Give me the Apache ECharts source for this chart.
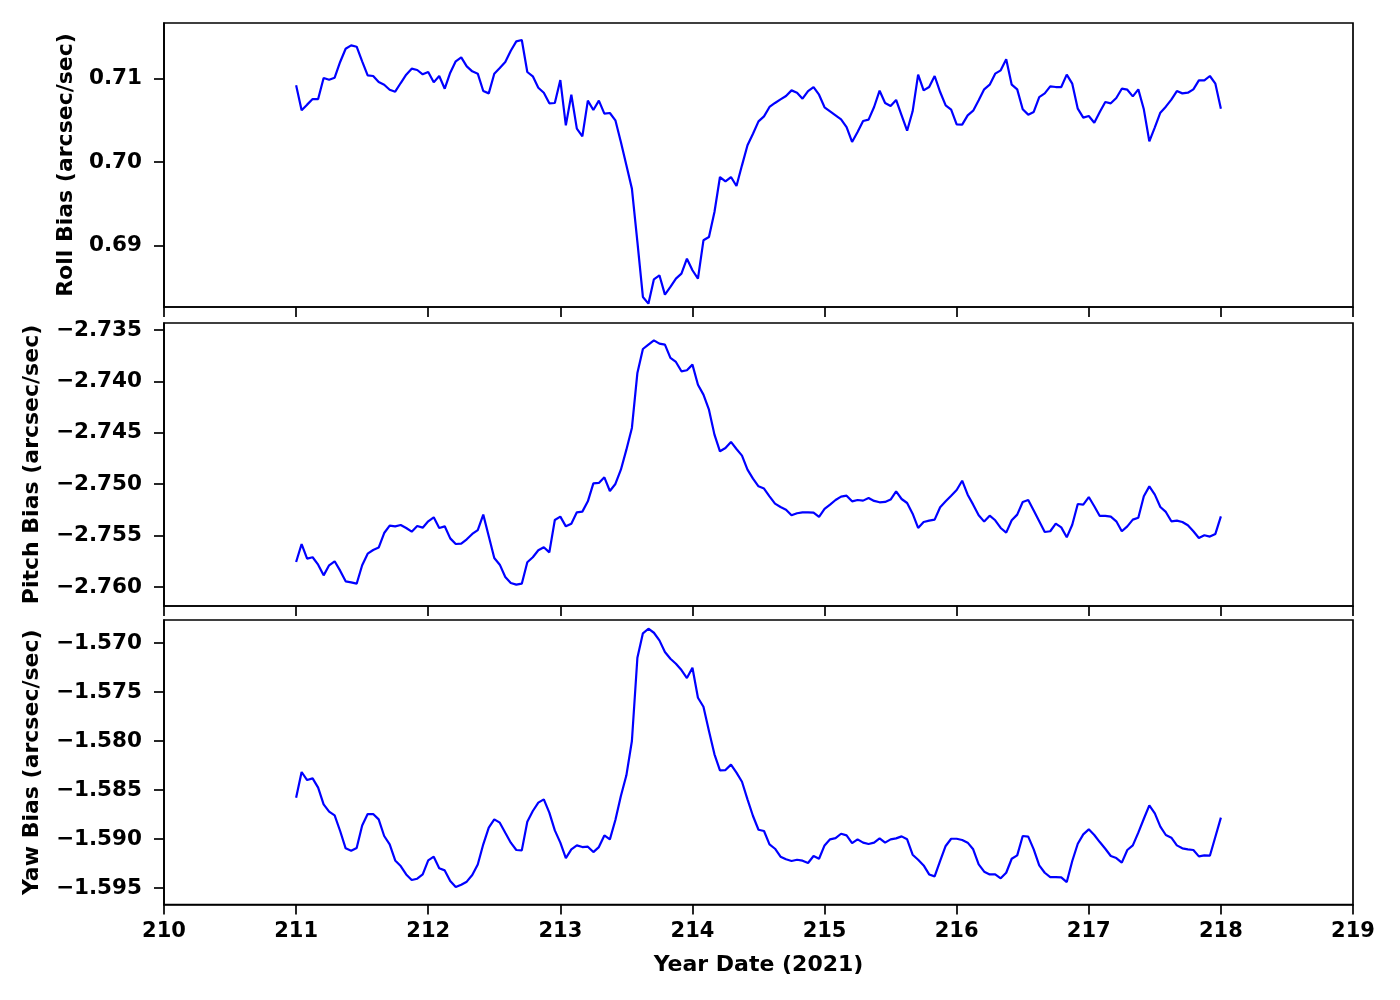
<!DOCTYPE html>
<html>
<head>
<meta charset="utf-8">
<script src="https://cdn.jsdelivr.net/npm/echarts@6/dist/echarts.min.js"></script>
<style>
html,body{margin:0;padding:0;background:#fff;}
#chart{width:1400px;height:1000px;}
</style>
</head>
<body>
<div id="chart"></div>
<script>
// Year date (2021), hourly samples
const yearDate = [
211.0000,211.0417,211.0833,211.1250,211.1667,211.2083,211.2500,211.2917,211.3333,211.3750,211.4167,211.4583,211.5000,211.5417,211.5833,211.6250,211.6667,211.7083,211.7500,211.7917,211.8333,211.8750,211.9167,211.9583,
212.0000,212.0417,212.0833,212.1250,212.1667,212.2083,212.2500,212.2917,212.3333,212.3750,212.4167,212.4583,212.5000,212.5417,212.5833,212.6250,212.6667,212.7083,212.7500,212.7917,212.8333,212.8750,212.9167,212.9583,
213.0000,213.0417,213.0833,213.1250,213.1667,213.2083,213.2500,213.2917,213.3333,213.3750,213.4167,213.4583,213.5000,213.5417,213.5833,213.6250,213.6667,213.7083,213.7500,213.7917,213.8333,213.8750,213.9167,213.9583,
214.0000,214.0417,214.0833,214.1250,214.1667,214.2083,214.2500,214.2917,214.3333,214.3750,214.4167,214.4583,214.5000,214.5417,214.5833,214.6250,214.6667,214.7083,214.7500,214.7917,214.8333,214.8750,214.9167,214.9583,
215.0000,215.0417,215.0833,215.1250,215.1667,215.2083,215.2500,215.2917,215.3333,215.3750,215.4167,215.4583,215.5000,215.5417,215.5833,215.6250,215.6667,215.7083,215.7500,215.7917,215.8333,215.8750,215.9167,215.9583,
216.0000,216.0417,216.0833,216.1250,216.1667,216.2083,216.2500,216.2917,216.3333,216.3750,216.4167,216.4583,216.5000,216.5417,216.5833,216.6250,216.6667,216.7083,216.7500,216.7917,216.8333,216.8750,216.9167,216.9583,
217.0000,217.0417,217.0833,217.1250,217.1667,217.2083,217.2500,217.2917,217.3333,217.3750,217.4167,217.4583,217.5000,217.5417,217.5833,217.6250,217.6667,217.7083,217.7500,217.7917,217.8333,217.8750,217.9167,217.9583,
218.0000
];

const rollBias = [
0.70918,0.70619,0.70687,0.70754,0.70754,0.71006,0.70986,0.71010,0.71198,0.71357,0.71397,0.71381,0.71206,0.71038,0.71030,0.70958,0.70926,0.70866,0.70842,0.70946,0.71046,0.71118,0.71102,0.71050,
0.71078,0.70954,0.71030,0.70878,0.71070,0.71206,0.71253,0.71146,0.71086,0.71058,0.70850,0.70822,0.71058,0.71126,0.71198,0.71333,0.71445,0.71461,0.71078,0.71026,0.70890,0.70830,0.70703,0.70707,
0.70982,0.70439,0.70806,0.70399,0.70307,0.70735,0.70623,0.70735,0.70579,0.70587,0.70499,0.70240,0.69960,0.69681,0.69042,0.68383,0.68303,0.68595,0.68643,0.68411,0.68503,0.68603,0.68663,0.68842,
0.68703,0.68603,0.69062,0.69102,0.69401,0.69820,0.69768,0.69820,0.69713,0.69960,0.70200,0.70339,0.70487,0.70547,0.70659,0.70707,0.70750,0.70790,0.70858,0.70830,0.70758,0.70850,0.70898,0.70806,
0.70655,0.70607,0.70559,0.70511,0.70419,0.70240,0.70359,0.70491,0.70507,0.70659,0.70854,0.70707,0.70671,0.70743,0.70559,0.70375,0.70607,0.71046,0.70858,0.70898,0.71030,0.70838,0.70679,0.70627,
0.70451,0.70447,0.70559,0.70615,0.70739,0.70870,0.70926,0.71058,0.71098,0.71230,0.70926,0.70870,0.70631,0.70567,0.70599,0.70778,0.70822,0.70906,0.70898,0.70898,0.71046,0.70938,0.70639,0.70531,
0.70551,0.70471,0.70599,0.70719,0.70703,0.70766,0.70878,0.70866,0.70786,0.70870,0.70631,0.70248,0.70415,0.70591,0.70663,0.70747,0.70850,0.70822,0.70830,0.70870,0.70978,0.70978,0.71030,0.70938,
0.70639
];

const pitchBias = [
-2.75757,-2.75582,-2.75724,-2.75711,-2.75783,-2.75887,-2.75789,-2.75750,-2.75841,-2.75945,-2.75955,-2.75968,-2.75789,-2.75676,-2.75640,-2.75617,-2.75475,-2.75403,-2.75410,-2.75397,-2.75426,-2.75462,-2.75407,-2.75423,
-2.75361,-2.75322,-2.75426,-2.75410,-2.75527,-2.75582,-2.75578,-2.75536,-2.75484,-2.75446,-2.75296,-2.75507,-2.75718,-2.75783,-2.75903,-2.75961,-2.75977,-2.75968,-2.75760,-2.75711,-2.75643,-2.75614,-2.75663,-2.75348,
-2.75316,-2.75410,-2.75384,-2.75274,-2.75267,-2.75167,-2.74992,-2.74988,-2.74933,-2.75066,-2.74998,-2.74859,-2.74664,-2.74453,-2.73918,-2.73685,-2.73643,-2.73601,-2.73633,-2.73643,-2.73772,-2.73811,-2.73902,-2.73892,
-2.73837,-2.74032,-2.74129,-2.74275,-2.74518,-2.74680,-2.74648,-2.74589,-2.74658,-2.74722,-2.74859,-2.74946,-2.75021,-2.75043,-2.75118,-2.75189,-2.75222,-2.75248,-2.75303,-2.75283,-2.75274,-2.75274,-2.75277,-2.75319,
-2.75241,-2.75199,-2.75154,-2.75121,-2.75112,-2.75167,-2.75154,-2.75160,-2.75134,-2.75163,-2.75176,-2.75173,-2.75150,-2.75069,-2.75144,-2.75183,-2.75287,-2.75426,-2.75368,-2.75355,-2.75345,-2.75225,-2.75167,-2.75112,
-2.75056,-2.74966,-2.75102,-2.75199,-2.75303,-2.75364,-2.75306,-2.75351,-2.75426,-2.75471,-2.75351,-2.75296,-2.75173,-2.75154,-2.75257,-2.75361,-2.75465,-2.75458,-2.75384,-2.75420,-2.75517,-2.75394,-2.75193,-2.75199,
-2.75125,-2.75215,-2.75309,-2.75309,-2.75316,-2.75361,-2.75458,-2.75410,-2.75345,-2.75326,-2.75118,-2.75021,-2.75102,-2.75222,-2.75270,-2.75361,-2.75355,-2.75368,-2.75400,-2.75458,-2.75523,-2.75497,-2.75510,-2.75484,
-2.75313
];

const yawBias = [
-1.58578,-1.58316,-1.58398,-1.58381,-1.58476,-1.58646,-1.58721,-1.58759,-1.58918,-1.59095,-1.59119,-1.59092,-1.58861,-1.58745,-1.58745,-1.58799,-1.58969,-1.59054,-1.59218,-1.59276,-1.59361,-1.59418,-1.59405,-1.59361,
-1.59218,-1.59180,-1.59299,-1.59320,-1.59429,-1.59490,-1.59466,-1.59435,-1.59367,-1.59259,-1.59054,-1.58884,-1.58799,-1.58833,-1.58935,-1.59037,-1.59112,-1.59116,-1.58823,-1.58714,-1.58629,-1.58595,-1.58731,-1.58912,
-1.59037,-1.59194,-1.59105,-1.59065,-1.59082,-1.59078,-1.59133,-1.59082,-1.58963,-1.59003,-1.58806,-1.58561,-1.58350,-1.58000,-1.57150,-1.56901,-1.56854,-1.56895,-1.56973,-1.57092,-1.57160,-1.57211,-1.57276,-1.57357,
-1.57252,-1.57558,-1.57650,-1.57898,-1.58136,-1.58299,-1.58296,-1.58241,-1.58323,-1.58415,-1.58595,-1.58765,-1.58905,-1.58918,-1.59054,-1.59099,-1.59180,-1.59207,-1.59224,-1.59211,-1.59221,-1.59245,-1.59173,-1.59201,
-1.59065,-1.59003,-1.58990,-1.58946,-1.58963,-1.59041,-1.59003,-1.59037,-1.59051,-1.59037,-1.58993,-1.59037,-1.59003,-1.58993,-1.58973,-1.59003,-1.59160,-1.59211,-1.59269,-1.59361,-1.59381,-1.59224,-1.59071,-1.58997,
-1.58997,-1.59010,-1.59037,-1.59105,-1.59259,-1.59333,-1.59361,-1.59361,-1.59401,-1.59344,-1.59201,-1.59167,-1.58969,-1.58976,-1.59105,-1.59269,-1.59344,-1.59388,-1.59388,-1.59391,-1.59439,-1.59224,-1.59048,-1.58952,
-1.58901,-1.58959,-1.59031,-1.59099,-1.59173,-1.59194,-1.59241,-1.59112,-1.59065,-1.58935,-1.58793,-1.58656,-1.58738,-1.58874,-1.58959,-1.58986,-1.59065,-1.59095,-1.59105,-1.59112,-1.59177,-1.59167,-1.59170,-1.58976,
-1.58782
];

const rollTicks = [0.69, 0.70, 0.71];
const pitchTicks = [-2.760, -2.755, -2.750, -2.745, -2.740, -2.735];
const yawTicks = [-1.595, -1.590, -1.585, -1.580, -1.575, -1.570];

const panelNames = ['Roll Bias (arcsec/sec)', 'Pitch Bias (arcsec/sec)', 'Yaw Bias (arcsec/sec)'];
const xName = 'Year Date (2021)';

const FONT = 'DejaVu Sans';
const LW = 1.7;

function fmt(d) {
  return function (v) { return v.toFixed(d).replace('-', '\u2212'); };
}

const grids = [
  { left: 164, top: 23, width: 1189, height: 284 },
  { left: 164, top: 323, width: 1189, height: 283 },
  { left: 164, top: 620, width: 1189, height: 284.5 }
];
const yRanges = [
  { min: 0.68263, max: 0.71665, ticks: rollTicks, dec: 2, gap: 87 },
  { min: -2.76185, max: -2.73432, ticks: pitchTicks, dec: 3, gap: 121 },
  { min: -1.59668, max: -1.56765, ticks: yawTicks, dec: 3, gap: 121 }
];
const seriesData = [rollBias, pitchBias, yawBias];

const option = {
  animation: false,
  backgroundColor: '#fff',
  grid: grids.map(g => Object.assign({
    show: true, borderColor: '#000', borderWidth: LW, backgroundColor: 'transparent',
    containLabel: false, outerBoundsMode: 'none'
  }, g)),
  xAxis: grids.map((g, i) => ({
    type: 'value', gridIndex: i, min: 210, max: 219, interval: 1,
    axisLine: { show: true, onZero: false, lineStyle: { color: '#000', width: LW } },
    axisTick: { show: true, inside: false, length: 10, lineStyle: { color: '#000', width: LW } },
    axisLabel: {
      show: i === 2, margin: 17, color: '#000', fontFamily: FONT, fontWeight: 'bold', fontSize: 21,
      formatter: v => String(v)
    },
    splitLine: { show: false },
    name: i === 2 ? xName : '',
    nameLocation: 'middle', nameGap: 50,
    nameTextStyle: { color: '#000', fontFamily: FONT, fontWeight: 'bold', fontSize: 22 }
  })),
  yAxis: yRanges.map((r, i) => ({
    type: 'value', gridIndex: i, min: r.min, max: r.max, scale: true,
    axisLine: { show: true, onZero: false, lineStyle: { color: '#000', width: LW } },
    axisTick: { show: true, inside: false, length: 10, customValues: r.ticks, lineStyle: { color: '#000', width: LW } },
    axisLabel: {
      show: true, margin: 22, color: '#000', fontFamily: FONT, fontWeight: 'bold', fontSize: 21.5,
      customValues: r.ticks, formatter: fmt(r.dec)
    },
    splitLine: { show: false },
    name: panelNames[i], nameLocation: 'middle', nameGap: r.gap,
    nameTextStyle: { color: '#000', fontFamily: FONT, fontWeight: 'bold', fontSize: 22 }
  })),
  series: seriesData.map((vals, i) => ({
    type: 'line', xAxisIndex: i, yAxisIndex: i,
    data: yearDate.map((t, k) => [t, vals[k]]),
    showSymbol: false, symbol: 'none',
    lineStyle: { color: '#0000ff', width: 2.2 },
    itemStyle: { color: '#0000ff' },
    clip: true
  }))
};

const chart = echarts.init(document.getElementById('chart'), null, { renderer: 'canvas' });
chart.setOption(option);
</script>
</body>
</html>
